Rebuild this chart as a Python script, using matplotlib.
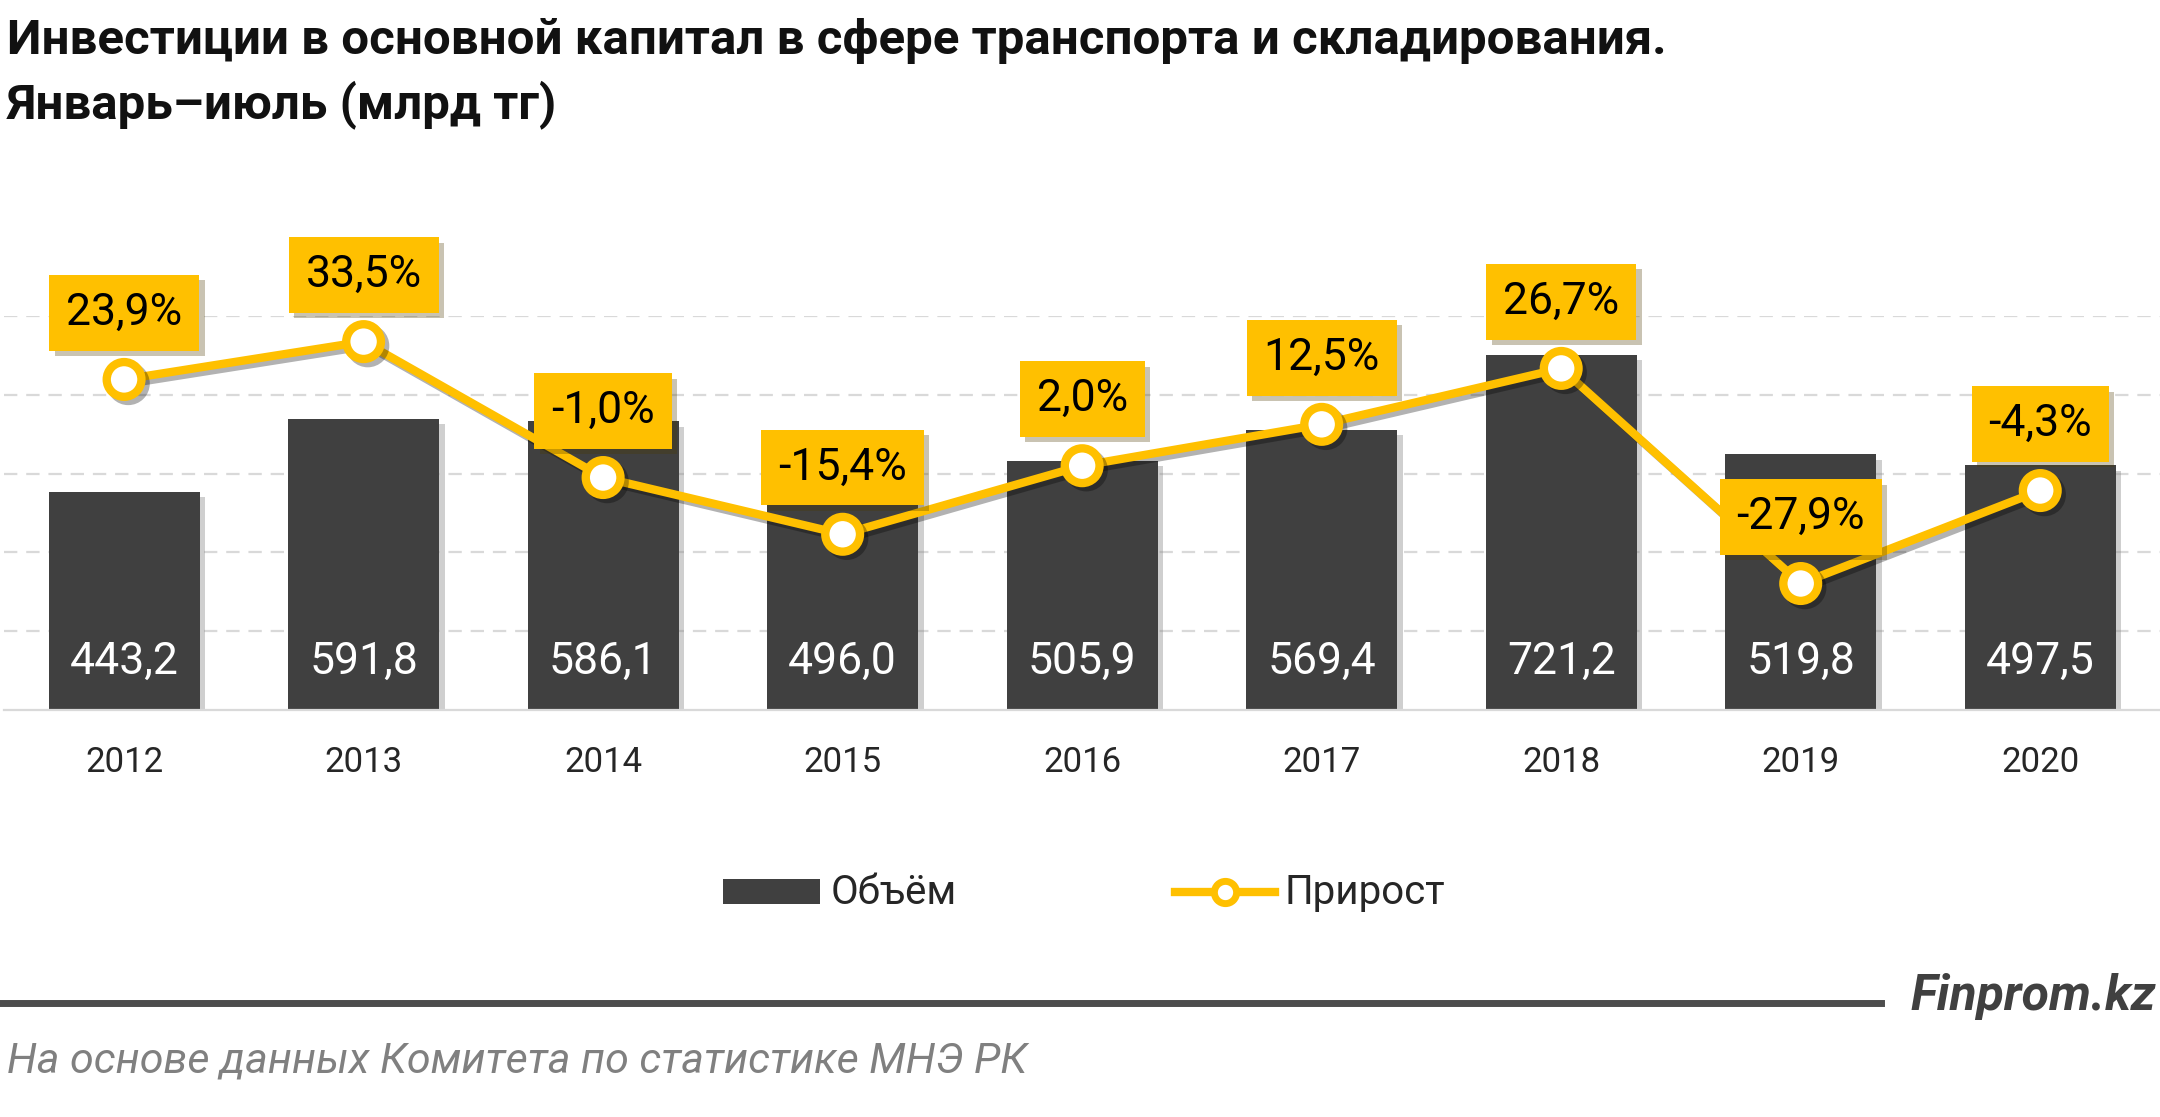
import matplotlib.pyplot as plt
import matplotlib.patheffects as pe
from matplotlib.lines import Line2D
from matplotlib.patches import Rectangle

plt.rcParams['font.family'] = ['Roboto', 'DejaVu Sans']

years = ['2012', '2013', '2014', '2015', '2016', '2017', '2018', '2019', '2020']
volume = [443.2, 591.8, 586.1, 496.0, 505.9, 569.4, 721.2, 519.8, 497.5]
growth = [23.9, 33.5, -1.0, -15.4, 2.0, 12.5, 26.7, -27.9, -4.3]

title1 = 'Инвестиции в основной капитал в сфере транспорта и складирования.'
title2 = 'Январь–июль (млрд тг)'
source = 'На основе данных Комитета по статистике МНЭ РК'

DARK = '#404040'
YELLOW = '#FFC000'
GRID = '#D9D9D9'

W, H = 2160, 1117
fig = plt.figure(figsize=(W / 100, H / 100), dpi=100)

# axes: baseline at y=710px, top gridline (800) at y=316px
ax = fig.add_axes([0.002, 1 - 710 / H, 0.998, (710 - 316) / H])
x = list(range(len(years)))
bars = ax.bar(x, volume, width=0.63, color=DARK, zorder=2)
for b in bars:
    b.set_path_effects([pe.SimplePatchShadow(offset=(4, -4), shadow_rgbFace='#888888', alpha=0.4), pe.Normal()])
ax.set_xlim(-0.5, 8.5)
ax.set_ylim(0, 800)
ax.set_yticks([160, 320, 480, 640, 800])
ax.yaxis.grid(True, color=GRID, lw=1.6, ls=(0, (6, 4)))
ax.set_axisbelow(True)
ax.set_xticks(x, years, fontsize=25, color='#262626')
ax.tick_params(axis='both', length=0, labelleft=False, pad=26)
for s in ['left', 'right', 'top']:
    ax.spines[s].set_visible(False)
ax.spines['bottom'].set_color(GRID)
ax.spines['bottom'].set_linewidth(1.6)

for i, v in enumerate(volume):
    ax.annotate(f'{v:.1f}'.replace('.', ','), (i, 0), xytext=(0, 35), textcoords='offset points',
                ha='center', va='center', color='white', fontsize=32)

# growth on secondary axis: -60..40 %
ax2 = ax.twinx()
ax2.set_ylim(-60, 40)
ax2.axis('off')
ax2.plot(x, growth, color=YELLOW, lw=6, marker='o', ms=25, mfc='white', mec=YELLOW, mew=6,
         zorder=3, path_effects=[pe.SimpleLineShadow(offset=(3, -3), alpha=0.3), pe.Normal()])
for i, g in enumerate(growth):
    t = ax2.annotate(f'{g:.1f}%'.replace('.', ','), (i, g), xytext=(0, 48), textcoords='offset points',
                     ha='center', va='center', fontsize=32, color='black', zorder=5,
                     bbox=dict(boxstyle='square,pad=0.38', fc=YELLOW, ec='none'))
    t.get_bbox_patch().set_path_effects([pe.SimplePatchShadow(offset=(4, -4), alpha=0.3), pe.Normal()])

# titles
fig.text(7 / W, 1 - 41 / H, title1, fontsize=35.5, weight='bold', va='center', color='#111111')
fig.text(7 / W, 1 - 105 / H, title2, fontsize=35.5, weight='bold', va='center', color='#111111')

# legend
ly = 1 - 892 / H
fig.add_artist(Rectangle((723 / W, ly - 12 / H), 97 / W, 25 / H, transform=fig.transFigure,
                         color=DARK, lw=0))
fig.text(831 / W, ly, 'Объём', fontsize=29, va='center', color='#262626')
fig.add_artist(Line2D([1175 / W, 1225 / W, 1275 / W], [ly, ly, ly], transform=fig.transFigure,
                      color=YELLOW, lw=6, marker='o', ms=16, mfc='white', mec=YELLOW, mew=5,
                      markevery=[1]))
fig.text(1284 / W, ly, 'Прирост', fontsize=29, va='center', color='#262626')

# footer
fy = 1 - 1003 / H
fig.add_artist(Line2D([0, 1881 / W], [fy, fy], transform=fig.transFigure, color='#4d4d4d', lw=5))
fig.text(2156 / W, 1 - 997 / H, 'Finprom.kz', fontsize=36, style='italic', weight='bold',
         ha='right', va='center', color='#404040')
fig.text(7 / W, 1 - 1061 / H, source, fontsize=31, style='italic', va='center', color='#808080')

fig.savefig('out.png', dpi=100, facecolor='white')
